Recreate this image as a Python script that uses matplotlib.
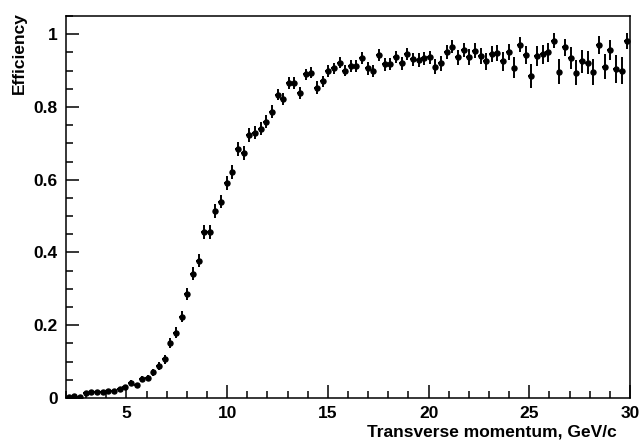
import numpy as np
import matplotlib
matplotlib.use("Agg")
import matplotlib.pyplot as plt
from matplotlib.ticker import MultipleLocator

# 100 bins from 2 to 30 GeV/c
bin_edges_range = (2.0, 30.0)
n_bins = 100

efficiency = [
    0.004, 0.006, 0.003, 0.015, 0.017, 0.017, 0.017, 0.019, 0.019, 0.024,
    0.029, 0.042, 0.036, 0.053, 0.054, 0.071, 0.089, 0.106, 0.151, 0.180,
    0.224, 0.286, 0.341, 0.377, 0.456, 0.456, 0.515, 0.540, 0.590, 0.622,
    0.685, 0.673, 0.723, 0.729, 0.740, 0.759, 0.787, 0.834, 0.822, 0.865,
    0.865, 0.838, 0.890, 0.894, 0.853, 0.870, 0.899, 0.906, 0.922, 0.900,
    0.913, 0.913, 0.934, 0.906, 0.899, 0.943, 0.917, 0.918, 0.937, 0.920,
    0.945, 0.931, 0.929, 0.934, 0.936, 0.911, 0.920, 0.950, 0.966, 0.936,
    0.957, 0.936, 0.955, 0.940, 0.925, 0.945, 0.948, 0.925, 0.950, 0.908,
    0.971, 0.943, 0.884, 0.940, 0.945, 0.950, 0.982, 0.897, 0.964, 0.934,
    0.894, 0.925, 0.922, 0.897, 0.971, 0.911, 0.957, 0.905, 0.900, 0.980,
]

eff_error = [
    0.003, 0.003, 0.003, 0.004, 0.004, 0.004, 0.004, 0.004, 0.004, 0.005,
    0.005, 0.007, 0.006, 0.008, 0.008, 0.010, 0.011, 0.012, 0.014, 0.015,
    0.016, 0.017, 0.018, 0.018, 0.019, 0.019, 0.019, 0.019, 0.019, 0.019,
    0.019, 0.019, 0.018, 0.018, 0.018, 0.018, 0.017, 0.016, 0.017, 0.016,
    0.016, 0.017, 0.015, 0.015, 0.017, 0.016, 0.016, 0.016, 0.015, 0.016,
    0.016, 0.016, 0.016, 0.017, 0.017, 0.016, 0.017, 0.017, 0.017, 0.018,
    0.017, 0.018, 0.018, 0.018, 0.019, 0.021, 0.020, 0.019, 0.018, 0.021,
    0.020, 0.022, 0.021, 0.022, 0.024, 0.022, 0.022, 0.025, 0.022, 0.028,
    0.020, 0.025, 0.033, 0.027, 0.026, 0.026, 0.020, 0.034, 0.024, 0.030,
    0.035, 0.031, 0.032, 0.036, 0.025, 0.035, 0.028, 0.038, 0.038, 0.022,
]

x_label = "Transverse momentum, GeV/c"
y_label = "Efficiency"
x_ticks = [5, 10, 15, 20, 25, 30]
y_ticks = [0, 0.2, 0.4, 0.6, 0.8, 1]
y_tick_labels = ["0", "0.2", "0.4", "0.6", "0.8", "1"]

edges = np.linspace(bin_edges_range[0], bin_edges_range[1], n_bins + 1)
centers = 0.5 * (edges[:-1] + edges[1:])
half_w = 0.5 * (edges[1:] - edges[:-1])

plt.rcParams['font.family'] = ['Liberation Sans', 'DejaVu Sans']
fig = plt.figure(figsize=(6.4, 4.43), dpi=100)
ax = fig.add_axes([66/640, 1 - 398/443, 564/640, 382/443])

ax.errorbar(centers, efficiency, yerr=eff_error, xerr=half_w, fmt='o',
            color='black', ms=3.6, elinewidth=1.4, capsize=0)

ax.set_xlim(2, 30)
ax.set_ylim(0, 1.05)
ax.set_xticks(x_ticks)
ax.set_yticks(y_ticks)
ax.set_yticklabels(y_tick_labels)
ax.xaxis.set_minor_locator(MultipleLocator(1))
ax.yaxis.set_minor_locator(MultipleLocator(0.05))
ax.tick_params(which='both', direction='in', top=False, right=False,
               width=1.1, labelsize=12.5)
ax.tick_params(which='major', length=9.5)
ax.tick_params(which='minor', length=5)
ax.tick_params(axis='x', pad=6)
ax.tick_params(axis='y', pad=6)
for lab in ax.get_xticklabels() + ax.get_yticklabels():
    lab.set_fontweight('bold')
for s in ax.spines.values():
    s.set_linewidth(1.1)

fig.text(617/640, 1 - 432/443, x_label, ha='right', va='center',
         fontsize=12.5, fontweight='bold')
fig.text(19/640, 1 - 12/443, y_label, ha='center', va='top', rotation=90,
         fontsize=12.5, fontweight='bold')

fig.savefig("out.png", dpi=100)
